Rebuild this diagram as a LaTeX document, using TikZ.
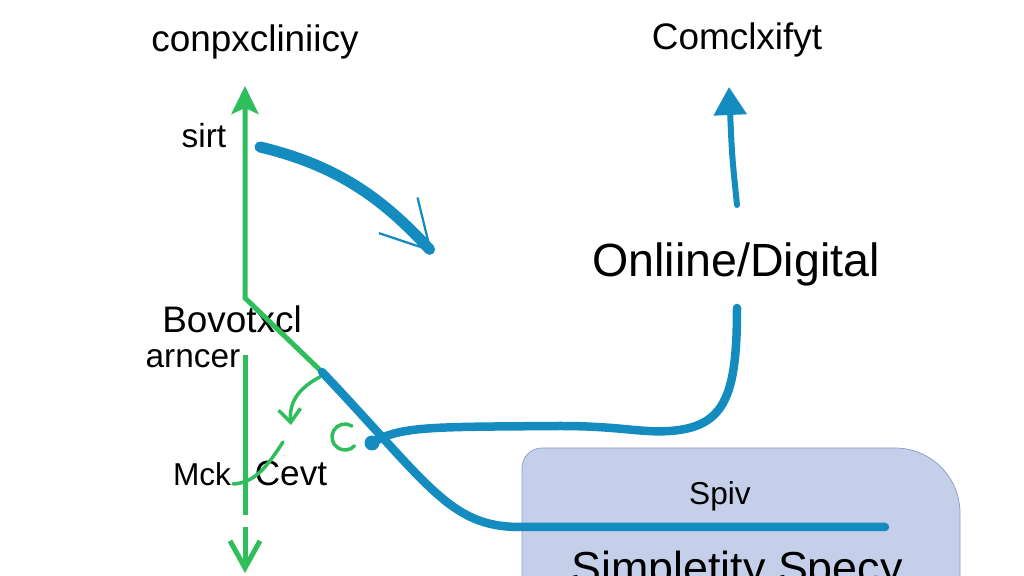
\documentclass[tikz,border=0pt]{standalone}
\usepackage{fontspec}
\setmainfont{Liberation Sans}
\usetikzlibrary{arrows.meta}
\definecolor{grn}{RGB}{46,190,92}
\definecolor{blu}{RGB}{20,140,192}
\definecolor{boxfill}{RGB}{197,207,233}
\definecolor{boxline}{RGB}{140,156,200}

\begin{document}
\begin{tikzpicture}[
  lbl/.style={anchor=base,font=\fontsize{20}{24}\selectfont},
  big/.style={anchor=base,font=\fontsize{26.5}{30}\selectfont},
  gline/.style={draw=grn,line width=1mm},
  gthin/.style={draw=grn,line width=0.7mm,line cap=round},
  bline/.style={draw=blu,line width=1.7mm,line cap=round}]
  \useasboundingbox (0,0) rectangle (20.48,11.52);

  % Box
  \draw[fill=boxfill,draw=boxline,line width=0.4pt] (10.44,-0.6) -- (10.44,2.16)
    arc[start angle=180,end angle=90,radius=0.4] -- (17.90,2.56)
    arc[start angle=90,end angle=0,radius=1.3] -- (19.20,-0.6) -- cycle;

  % Labels
  \node[lbl,font=\fontsize{21}{25}\selectfont] (cplxa) at (5.10,10.48) {conpxcliniicy};
  \node[lbl,font=\fontsize{21}{25}\selectfont] (cplxb) at (14.74,10.52) {Comclxifyt};
  \node[lbl,font=\fontsize{19}{23}\selectfont] (sirt) at (4.08,8.56) {sirt};
  \node[big] (onl) at (14.72,5.98) {Onliine/Digital};
  \node[lbl,font=\fontsize{21}{25}\selectfont] (bovo) at (4.64,4.86) {Bovotxcl};
  \node[lbl,font=\fontsize{19}{23}\selectfont] (arnc) at (3.86,4.16) {arncer};
  \node[lbl,font=\fontsize{18}{22}\selectfont] (mck) at (4.04,1.80) {Mck};
  \node[lbl] (cevt) at (5.82,1.80) {Cevt};
  \node[lbl,font=\fontsize{18}{22}\selectfont] (spiv) at (14.40,1.42) {Spiv};
  \node[lbl,font=\fontsize{25.5}{29}\selectfont] (simp) at (14.74,-0.16) {Simpletity Specy};

  % Green axis
  \coordinate (gtop) at (4.90,9.80);
  \coordinate (gbend) at (4.90,5.56);
  \coordinate (gmid) at (6.44,4.08);
  \draw[gline,{Stealth[length=5.6mm,width=5.4mm,inset=1.2mm]}-] (gtop) -- (gbend) -- (gmid);

  \coordinate (glo1) at (4.90,4.42);
  \coordinate (glo2) at (4.90,1.22);
  \coordinate (garr1) at (4.90,0.98);
  \coordinate (garr2) at (4.90,0.06);
  \draw[gline] (glo1) -- (glo2);
  \draw[gline,-{Straight Barb[length=5.4mm,width=6mm]}] (garr1) -- (garr2);

  % Small green arcs
  \coordinate (ga1) at (6.40,3.98);
  \coordinate (ga2) at (5.82,3.02);
  \coordinate (gb1) at (5.66,2.68);
  \coordinate (gb2) at (4.66,1.84);
  \coordinate (gc) at (6.90,2.78);
  \draw[gthin,-{Straight Barb[length=2.6mm,width=4.4mm]}] (ga1) .. controls (5.95,3.75) and (5.78,3.45) .. (ga2);
  \draw[gthin] (gb1) .. controls (5.35,2.2) and (5.1,1.86) .. (gb2);
  \draw[gthin] (gc) ++(58:0.26) arc[start angle=58,end angle=317,radius=0.26];

  % Blue lines
  \coordinate (bend) at (17.70,0.98);
  \draw[bline] (gmid) .. controls (8.6,1.8) and (9.0,0.98) .. (10.4,0.98) -- (bend);

  \coordinate (b2s) at (7.44,2.66);
  \coordinate (b2e) at (14.74,5.36);
  \draw[bline] (b2s) .. controls (8.0,3.0) and (8.6,2.98) .. (11.2,3.0)
    .. controls (12.4,3.0) and (12.8,2.86) .. (13.4,2.9)
    .. controls (14.5,2.98) and (14.74,3.6) .. (b2e);
  \fill[blu] (b2s) circle (0.15);

  \coordinate (tl1) at (5.20,8.58);
  \coordinate (tl2) at (8.64,6.48);
  \draw[bline,line width=2.2mm,-{Straight Barb[length=9.5mm,width=10.5mm,line width=1.3pt]}] (tl1) .. controls (6.8,8.2) and (7.7,7.5) .. (tl2);

  \coordinate (ur1) at (14.74,7.42);
  \coordinate (ur2) at (14.58,9.78);
  \draw[bline,line width=1.2mm,-{Triangle[length=5.6mm,width=6.4mm]}] (ur1) .. controls (14.64,8.4) .. (ur2);
\end{tikzpicture}
\end{document}
